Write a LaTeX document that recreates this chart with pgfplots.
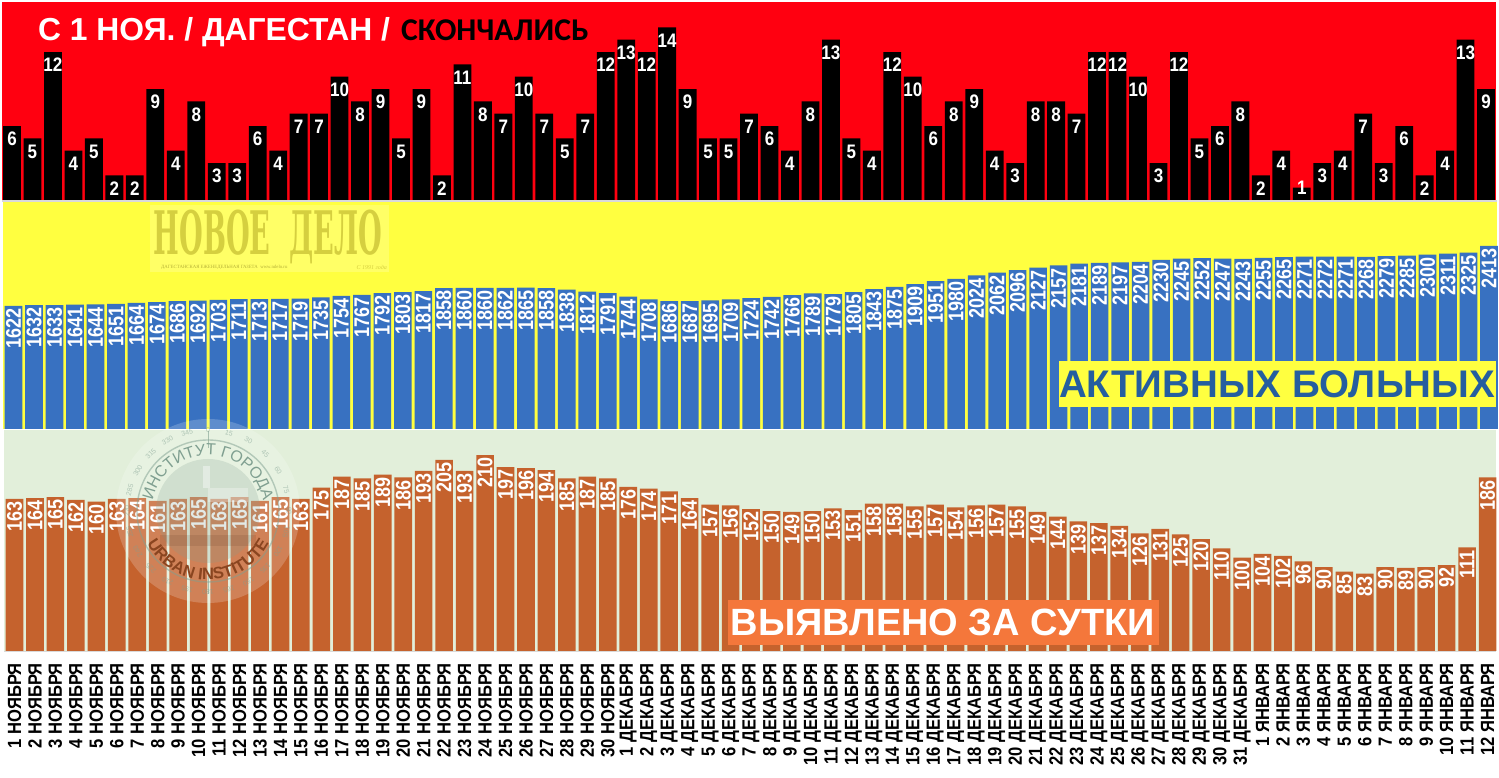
\documentclass[border=0pt]{standalone}
\usepackage{pgfplots}
\pgfplotsset{compat=1.18}
\usepackage{pgfplotstable}
\usepackage{fontspec}
\usetikzlibrary{decorations.text}
\setmainfont{Liberation Sans}
\newfontfamily\carlito{Carlito}
\newfontfamily\slab{DejaVu Serif}
\newfontfamily\serifb{Liberation Serif}

\definecolor{redbg}{HTML}{FF0010}
\definecolor{yellowbg}{HTML}{FFFF40}
\definecolor{yellowbox}{HTML}{FFFF66}
\definecolor{wmark}{HTML}{D5CF3F}
\definecolor{greenbg}{HTML}{E2EFDA}
\definecolor{bluebar}{HTML}{3871C1}
\definecolor{orangebar}{HTML}{C5622D}
\definecolor{orangebox}{HTML}{F4773B}
\definecolor{bluetext}{HTML}{255E9F}
\definecolor{logotext}{HTML}{7F9F90}

\pgfplotstableread{
i d a c
0 6 1622 163
1 5 1632 164
2 12 1633 165
3 4 1641 162
4 5 1644 160
5 2 1651 163
6 2 1664 164
7 9 1674 161
8 4 1686 163
9 8 1692 165
10 3 1703 163
11 3 1711 165
12 6 1713 161
13 4 1717 165
14 7 1719 163
15 7 1735 175
16 10 1754 187
17 8 1767 185
18 9 1792 189
19 5 1803 186
20 9 1817 193
21 2 1858 205
22 11 1860 193
23 8 1860 210
24 7 1862 197
25 10 1865 196
26 7 1858 194
27 5 1838 185
28 7 1812 187
29 12 1791 185
30 13 1744 176
31 12 1708 174
32 14 1686 171
33 9 1687 164
34 5 1695 157
35 5 1709 156
36 7 1724 152
37 6 1742 150
38 4 1766 149
39 8 1789 150
40 13 1779 153
41 5 1805 151
42 4 1843 158
43 12 1875 158
44 10 1909 155
45 6 1951 157
46 8 1980 154
47 9 2024 156
48 4 2062 157
49 3 2096 155
50 8 2127 149
51 8 2157 144
52 7 2181 139
53 12 2189 137
54 12 2197 134
55 10 2204 126
56 3 2230 131
57 12 2245 125
58 5 2252 120
59 6 2247 110
60 8 2243 100
61 2 2255 104
62 4 2265 102
63 1 2271 96
64 3 2272 90
65 4 2271 85
66 7 2268 83
67 3 2279 90
68 6 2285 89
69 2 2300 90
70 4 2311 92
71 13 2325 111
72 9 2413 186
}\data

\pgfplotsset{
  panel/.style={
    scale only axis, anchor=south west, clip=false,
    axis line style={draw=none}, tick style={draw=none},
    major tick length=0pt,
    ymin=0, ytick=\empty, xtick=\empty,
    ybar, /pgf/bar shift=0pt,
    nodes near coords,
    /pgf/number format/.cd, 1000 sep={}, fixed, precision=0, assume math mode=true,
  },
}

\begin{document}
\begin{tikzpicture}[x=1pt,y=1pt]
\useasboundingbox (0pt,0pt) rectangle (1499pt,778pt);
\fill[white] (0pt,0pt) rectangle (1499pt,778pt);

% panels, y counted from the top of the picture
\begin{scope}[y=-1pt,yshift=778pt]
  \fill[gray!30] (2,200) rectangle (1497,202);
  \fill[redbg] (2,2) rectangle (1496,200);
  \fill[yellowbg] (3,202) rectangle (1497,429);
  \fill[greenbg] (4,430) rectangle (1496,651);
  \fill[gray!30] (4,651) rectangle (1496,652);
\end{scope}

\begin{axis}[panel, at={(2pt,578pt)}, width=1494pt, height=198pt,
  xmin=-0.4885, xmax=72.4885, ymax=16.06, bar width=17.8pt,
  visualization depends on={ifthenelse(y<1.5,13,0) \as \lift},
  every node near coord/.append style={anchor=north, inner sep=0pt, yshift=\lift pt-6pt,
    yscale=1.15, text=white, font=\bfseries\fontsize{17}{17}\selectfont}]
\addplot[fill=black, draw=none] table[x=i,y=d] {\data};
\end{axis}

\begin{axis}[panel, at={(3pt,349pt)}, width=1494pt, height=227pt,
  xmin=-0.512, xmax=72.39, ymax=2993, bar width=17.6pt,
  every node near coord/.append style={yshift=-2.5pt, rotate=90, yscale=1.18, anchor=east, inner sep=0pt,
    text=white, font=\bfseries\fontsize{18}{18}\selectfont}]
\addplot[fill=bluebar, draw=none] table[x=i,y=a] {\data};
\end{axis}

\begin{axis}[panel, at={(4pt,127pt)}, width=1492pt, height=221pt,
  xmin=-0.513, xmax=72.415, ymax=236.9, bar width=17.6pt,
  xtick=data,
  xticklabels={1 НОЯБРЯ,2 НОЯБРЯ,3 НОЯБРЯ,4 НОЯБРЯ,5 НОЯБРЯ,6 НОЯБРЯ,7 НОЯБРЯ,8 НОЯБРЯ,9 НОЯБРЯ,10 НОЯБРЯ,
    11 НОЯБРЯ,12 НОЯБРЯ,13 НОЯБРЯ,14 НОЯБРЯ,15 НОЯБРЯ,16 НОЯБРЯ,17 НОЯБРЯ,18 НОЯБРЯ,19 НОЯБРЯ,20 НОЯБРЯ,
    21 НОЯБРЯ,22 НОЯБРЯ,23 НОЯБРЯ,24 НОЯБРЯ,25 НОЯБРЯ,26 НОЯБРЯ,27 НОЯБРЯ,28 НОЯБРЯ,29 НОЯБРЯ,30 НОЯБРЯ,
    1 ДЕКАБРЯ,2 ДЕКАБРЯ,3 ДЕКАБРЯ,4 ДЕКАБРЯ,5 ДЕКАБРЯ,6 ДЕКАБРЯ,7 ДЕКАБРЯ,8 ДЕКАБРЯ,9 ДЕКАБРЯ,10 ДЕКАБРЯ,
    11 ДЕКАБРЯ,12 ДЕКАБРЯ,13 ДЕКАБРЯ,14 ДЕКАБРЯ,15 ДЕКАБРЯ,16 ДЕКАБРЯ,17 ДЕКАБРЯ,18 ДЕКАБРЯ,19 ДЕКАБРЯ,20 ДЕКАБРЯ,
    21 ДЕКАБРЯ,22 ДЕКАБРЯ,23 ДЕКАБРЯ,24 ДЕКАБРЯ,25 ДЕКАБРЯ,26 ДЕКАБРЯ,27 ДЕКАБРЯ,28 ДЕКАБРЯ,29 ДЕКАБРЯ,30 ДЕКАБРЯ,31 ДЕКАБРЯ,
    1 ЯНВАРЯ,2 ЯНВАРЯ,3 ЯНВАРЯ,4 ЯНВАРЯ,5 ЯНВАРЯ,6 ЯНВАРЯ,7 ЯНВАРЯ,8 ЯНВАРЯ,9 ЯНВАРЯ,10 ЯНВАРЯ,11 ЯНВАРЯ,12 ЯНВАРЯ},
  xticklabel shift=12pt,
  xticklabel style={rotate=90, yscale=1.15, anchor=east, inner sep=0pt, font=\bfseries\fontsize{16.6}{17}\selectfont},
  every node near coord/.append style={yshift=-2.5pt, rotate=90, yscale=1.18, anchor=east, inner sep=0pt,
    text=white, font=\bfseries\fontsize{18}{18}\selectfont}]
\addplot[fill=orangebar, draw=none] table[x=i,y=c] {\data};
\end{axis}

\begin{scope}[y=-1pt,yshift=778pt]
  % title
  \node[anchor=base west, inner sep=0pt, text=white, font=\bfseries\fontsize{31.8}{32}\selectfont] at (38,41) {С 1 НОЯ. / ДАГЕСТАН /};
  \node[anchor=base west, inner sep=0pt, text=black, font=\carlito\bfseries\fontsize{31.7}{32}\selectfont] at (401,41) {СКОНЧАЛИСЬ};

  % series captions
  \fill[yellowbg] (1059,361) rectangle (1496,407);
  \node[anchor=base, inner sep=0pt, text=bluetext, font=\bfseries\fontsize{38.5}{40}\selectfont] at (1277,398) {АКТИВНЫХ БОЛЬНЫХ};
  \fill[orangebox] (728,600) rectangle (1159,645);
  \node[anchor=base, inner sep=0pt, text=white, font=\bfseries\fontsize{38}{40}\selectfont] at (943,636) {ВЫЯВЛЕНО ЗА СУТКИ};

  % newspaper watermark
  \fill[yellowbox] (150,205) rectangle (389,272);
  \node[anchor=base, inner sep=0pt, text=wmark, xscale=0.68, yscale=1.5,
    font=\slab\bfseries\fontsize{40}{40}\selectfont] at (268,255) {НОВОЕ \ ДЕЛО};
  \node[anchor=west, inner sep=0pt, text=wmark!85!black, font=\serifb\fontsize{4.8}{5}\selectfont] at (161,267) {ДАГЕСТАНСКАЯ ЕЖЕНЕДЕЛЬНАЯ ГАЗЕТА \ www.ndelo.ru};
  \node[anchor=east, inner sep=0pt, text=wmark, font=\serifb\itshape\fontsize{6}{6}\selectfont] at (387,267) {С 1991 года};

  % institute seal over the bars
  \fill[white, opacity=0.2] (208,511) circle[radius=92pt];
  \fill[logotext, opacity=0.22] (208,511) circle[radius=52pt];
  \fill[black!60!orangebar, opacity=0.12] (160,535) rectangle (256,546);
  \fill[white, opacity=0.4] (203,466) rectangle (210,488);
  \fill[white, opacity=0.3] (208,488) rectangle (248,502);
  \draw[logotext, opacity=0.5, line width=1.4pt] (208,511) circle[radius=71pt];
  \draw[logotext, opacity=0.6, line width=1pt] (208,431) -- (208,448) (208,574) -- (208,594);
  \foreach \a in {0,15,...,345}
    \node[text=logotext, opacity=0.55, font=\fontsize{7}{7}\selectfont, rotate=-\a] at ({208+81*sin(\a)},{511-81*cos(\a)}) {\a};
  \path[decorate, decoration={text along path, text align=center,
      text={|\fontsize{16}{16}\selectfont\color{logotext}|ИНСТИТУТ ГОРОДА}}]
    (152,511) arc[start angle=180, end angle=0, radius=56pt];
  \path[decorate, decoration={text along path, text align=center,
      text={|\bfseries\fontsize{16.5}{17}\selectfont\color{black!30!orangebar}|URBAN INSTITUTE}}]
    (139,511) arc[start angle=180, end angle=360, radius=69pt];
\end{scope}
\end{tikzpicture}
\end{document}
